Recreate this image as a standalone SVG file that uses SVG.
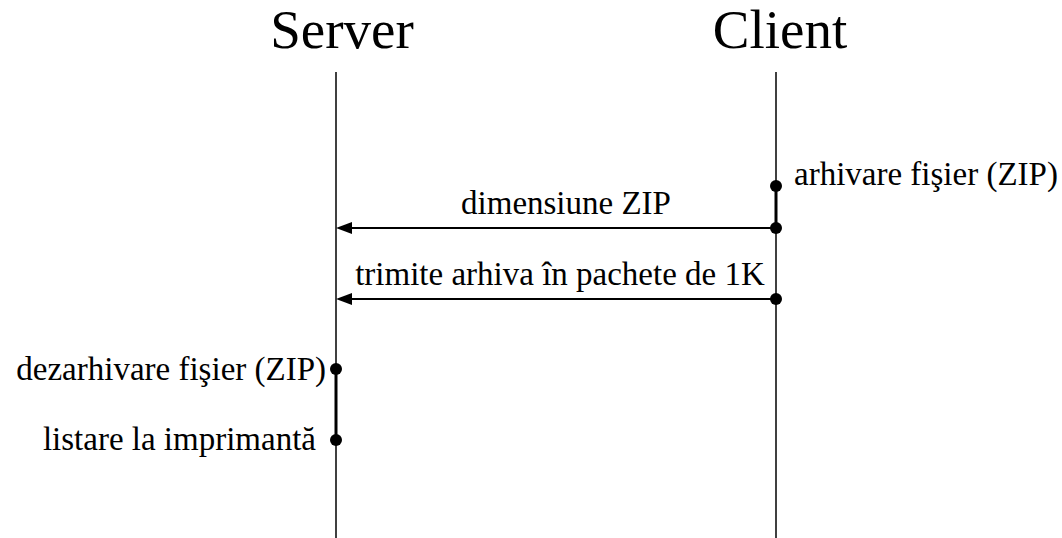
<svg xmlns="http://www.w3.org/2000/svg" width="1062" height="538" viewBox="0 0 1062 538">
<style>
text{font-family:'Liberation Serif','Times New Roman',serif;fill:#000}
.t{font-size:55px}
.l{font-size:33px}
.life{stroke:#000;stroke-width:1.5;fill:none}
.act{stroke:#000;stroke-width:3;fill:none}
.msg{stroke:#000;stroke-width:2;fill:none}
.dot{fill:#000}
</style>
<rect width="1062" height="538" fill="#fff"/>
<g id="server">
<text class="t" x="342" y="48" text-anchor="middle">Server</text>
<line class="life" x1="336" y1="72" x2="336" y2="538"/>
</g>
<g id="client">
<text class="t" x="780" y="48" text-anchor="middle">Client</text>
<line class="life" x1="776" y1="72" x2="776" y2="538"/>
</g>
<g id="connectors">
<line class="act" x1="776" y1="186" x2="776" y2="228"/>
<line class="act" x1="336" y1="369" x2="336" y2="440"/>
<line class="msg" x1="776" y1="228" x2="352" y2="228"/>
<path d="M336,228 L352,222 L352,234 Z" fill="#000"/>
<line class="msg" x1="776" y1="299" x2="352" y2="299"/>
<path d="M336,299 L352,293 L352,305 Z" fill="#000"/>
</g>
<g id="e1">
<circle class="dot" cx="776" cy="186" r="6"/>
<text class="l" x="794" y="185">arhivare fişier (ZIP)</text>
</g>
<g id="m1">
<circle class="dot" cx="776" cy="228" r="6"/>
<text class="l" x="566" y="214" text-anchor="middle">dimensiune ZIP</text>
</g>
<g id="m2">
<circle class="dot" cx="776" cy="299" r="6"/>
<text class="l" x="560" y="285" text-anchor="middle">trimite arhiva în pachete de 1K</text>
</g>
<g id="e2">
<circle class="dot" cx="336" cy="369" r="6"/>
<text class="l" x="326" y="380" text-anchor="end">dezarhivare fişier (ZIP)</text>
</g>
<g id="e3">
<circle class="dot" cx="336" cy="440" r="6"/>
<text class="l" x="316" y="450" text-anchor="end">listare la imprimantă</text>
</g>
</svg>
